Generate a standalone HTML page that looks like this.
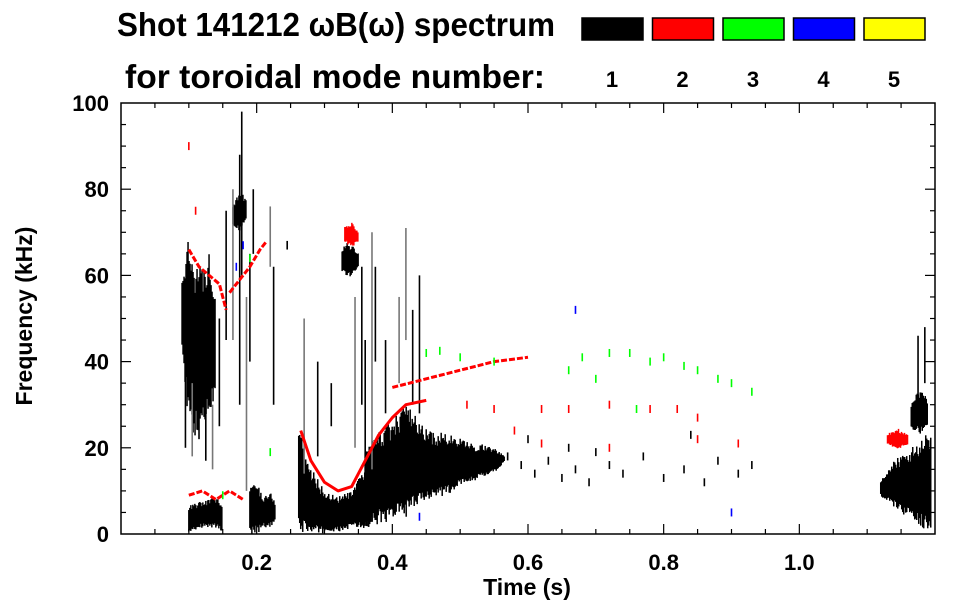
<!DOCTYPE html>
<html><head><meta charset="utf-8"><style>
html,body{margin:0;padding:0;background:#fff;}
svg{display:block;font-family:"Liberation Sans",sans-serif;font-weight:bold;}
</style></head><body>
<svg id="chart" width="963" height="615" viewBox="0 0 963 615" xmlns="http://www.w3.org/2000/svg">
<text x="117" y="36" font-size="33" textLength="438" lengthAdjust="spacingAndGlyphs">Shot 141212 ωB(ω) spectrum</text>
<text x="125" y="88" font-size="33" textLength="420" lengthAdjust="spacingAndGlyphs">for toroidal mode number:</text>
<g id="legend"></g>
<g id="marks"></g>
<g id="axes"></g>
</svg>
<script>
// ---- data ----
const modeNumbers = [1,2,3,4,5];
const modeColors = ["#000000","#ff0000","#00ff00","#0000ff","#ffff00"];
const xTicks = [0.2,0.4,0.6,0.8,1.0];
const xTickLabels = ["0.2","0.4","0.6","0.8","1.0"];
const yTicks = [0,20,40,60,80,100];
const yTickLabels = ["0","20","40","60","80","100"];
// mode 1 (black) bands: time, low freq, high freq
const n1BandT = [[0.09,0.095,0.10,0.11,0.12,0.13,0.14],[0.165,0.175,0.185],[0.10,0.12,0.14,0.15],[0.19,0.20,0.21,0.22,0.227],[0.262,0.27,0.28,0.30,0.32,0.34,0.36,0.37],[0.326,0.335,0.35],[0.36,0.38,0.40,0.42,0.44,0.46,0.48,0.50,0.52,0.54,0.555,0.565],[1.12,1.14,1.16,1.18,1.195],[1.165,1.18,1.19]];
const n1BandLo = [[45,35,28,25,28,30,35],[72,71,73],[1,2,2,1],[1,1,2,2,3],[2,2,1,1,1,2,2,3],[61,60,62],[3,4,5,6,8,10,10,12,13,14,15,17],[9,7,5,3,3],[25,24,26]];
const n1BandHi = [[57,62,64,60,58,62,55],[76,79,77],[6,7,8,6],[10,11,8,9,7],[25,18,14,9,8,9,14,20],[66,67,65],[18,22,24,28,24,22,22,21,20,20,19,18],[12,16,18,20,22],[30,33,30]];
// mode 1 streaks: time, f0, f1
const n1StreakT = [0.095,0.105,0.115,0.125,0.135,0.145,0.155,0.165,0.175,0.178,0.185,0.19,0.195,0.22,0.225,0.245,0.27,0.29,0.31,0.345,0.355,0.36,0.37,0.375,0.39,0.41,0.43,0.44,0.42,1.175,1.185];
const n1StreakF0 = [20,18,22,17,15,25,45,45,30,60,10,40,65,62,30,66,14,18,25,20,30,10,15,40,28,35,30,28,45,30,35];
const n1StreakF1 = [40,35,35,40,30,50,75,80,88,98,55,65,80,76,62,68,50,40,35,55,62,45,70,62,45,55,52,60,71,46,48];
// scattered short mode-1 dashes: time, freq
const n1DashT = [0.57,0.59,0.61,0.63,0.65,0.67,0.69,0.72,0.74,0.77,0.8,0.83,0.86,0.88,0.91,0.93,0.60,0.66,0.7,0.84];
const n1DashF = [18,16,14,17,13,15,12,16,14,18,13,15,12,17,14,16,22,20,19,23];
// mode 2 (red) lines
const n2LineT = [[0.265,0.28,0.30,0.32,0.34,0.36,0.38,0.40,0.42,0.45],[0.40,0.45,0.50,0.55,0.60],[0.16,0.175,0.19,0.205,0.215],[0.10,0.115,0.13,0.145,0.155],[0.10,0.12,0.14,0.16,0.18]];
const n2LineF = [[24,17,12,10,11,17,23,27,30,31],[34,36,38,40,41],[56,59,62,66,68],[66,62,60,58,52],[9,10,8,10,8]];
const n2BlobT = [[0.33,0.34,0.35],[1.13,1.145,1.16]];
const n2BlobLo = [[68,67,68],[21,20,21]];
const n2BlobHi = [[71,72,70],[23,24,23]];
const n2DashT = [0.55,0.62,0.66,0.72,0.78,0.82,0.85,0.62,0.72,0.85,0.91,0.10,0.11,0.58,0.51];
const n2DashF = [29,29,29,30,29,29,27,21,20,22,21,90,75,24,30];
// mode 3 (green) dashes
const n3DashT = [0.45,0.47,0.50,0.55,0.66,0.68,0.72,0.75,0.78,0.80,0.83,0.85,0.88,0.90,0.93,0.70,0.76,0.22,0.15,0.19];
const n3DashF = [42,42.5,41,40,38,41,42,42,40,41,39,38,36,35,33,36,29,19,9,64];
// mode 4 (blue) dashes
const n4DashT = [0.18,0.67,0.90,0.44,0.17];
const n4DashF = [67,52,5,4,62];

// ---- axes ----
const X0=121, X1=935, Y0=534, Y1=103;
const xs = t => X0 + (X1-X0)*t/1.2;
const ys = f => Y0 - (Y0-Y1)*f/100;
const NS="http://www.w3.org/2000/svg";
function mk(tag, attrs, parent){const e=document.createElementNS(NS,tag);for(const k in attrs)e.setAttribute(k,attrs[k]);parent.appendChild(e);return e;}
const marks=document.getElementById('marks'), axes=document.getElementById('axes'), legend=document.getElementById('legend');

// legend
modeNumbers.forEach((m,i)=>{
  const x=582+i*70.5;
  const r=mk('rect',{x:x,y:18,width:61,height:22,fill:modeColors[i],stroke:'#000','stroke-width':1.5},legend);
  
  
  const t=mk('text',{x:x+30,y:87,'font-size':22,'text-anchor':'middle'},legend);
  t.textContent=String(m);
  
  
});

// deterministic texture jitter (style only)
const jit = k => { const s=Math.sin(k*12.9898)*43758.5453; return s-Math.floor(s); };
let jk=1;
function band(T,L,H,color,name){
  const g=mk('g',{},marks);
  
  
  const xa=xs(T[0]), xb=xs(T[T.length-1]);
  for(let x=xa;x<=xb;x+=1){
    const t=(x-X0)*1.2/(X1-X0);
    let j=0; while(j<T.length-2 && t>T[j+1]) j++;
    const u=Math.min(1,Math.max(0,(t-T[j])/(T[j+1]-T[j])));
    const lo=L[j]+(L[j+1]-L[j])*u, hi=H[j]+(H[j+1]-H[j])*u;
    const r=(hi-lo);
    const a=hi+ (jit(jk++)-0.5)*r*0.25, b=lo+(jit(jk++)-0.5)*r*0.2;
    mk('line',{x1:x,x2:x,y1:ys(a),y2:ys(b),stroke:color,'stroke-width':1.5},g);
  }
}
n1BandT.forEach((T,i)=>band(T,n1BandLo[i],n1BandHi[i],'#000','mode1-band'));
n1StreakT.forEach((t,i)=>{
  const l=mk('line',{x1:xs(t),x2:xs(t),y1:ys(n1StreakF0[i]),y2:ys(n1StreakF1[i]),stroke:i%3==1?'#777':'#000','stroke-width':1.6},marks);
  
  
});
function dash(t,f,color,name){
  const l=mk('line',{x1:xs(t),x2:xs(t),y1:ys(f)-4,y2:ys(f)+4,stroke:color,'stroke-width':1.6},marks);
  
  
}
n1DashT.forEach((t,i)=>dash(t,n1DashF[i],'#000','mode1-dash'));
n2LineT.forEach((T,i)=>{
  const p=mk('polyline',{points:T.map((t,j)=>xs(t)+','+ys(n2LineF[i][j])).join(' '),fill:'none',stroke:'#f00','stroke-width':3,'stroke-linejoin':'round','stroke-dasharray':i==0?'none':'6 2'},marks);
  
  
});
n2BlobT.forEach((T,i)=>band(T,n2BlobLo[i],n2BlobHi[i],'#f00','mode2-band'));
n2DashT.forEach((t,i)=>dash(t,n2DashF[i],'#f00','mode2-dash'));
n3DashT.forEach((t,i)=>dash(t,n3DashF[i],'#0f0','mode3-dash'));
n4DashT.forEach((t,i)=>dash(t,n4DashF[i],'#00f','mode4-dash'));

// frame
const fr=mk('rect',{x:X0,y:Y1,width:X1-X0,height:Y0-Y1,fill:'none',stroke:'#000','stroke-width':1.5},axes);


for(let t=0.05;t<1.2;t+=0.05){
  const major=Math.abs(t/0.2-Math.round(t/0.2))<1e-6;const L=major?10:5;
  mk('line',{x1:xs(t),x2:xs(t),y1:Y0,y2:Y0-L,stroke:'#000','stroke-width':1.2},axes);
  mk('line',{x1:xs(t),x2:xs(t),y1:Y1,y2:Y1+L,stroke:'#000','stroke-width':1.2},axes);
}
for(let f=5;f<100;f+=5){
  const L=f%20==0?10:5;
  mk('line',{x1:X0,x2:X0+L,y1:ys(f),y2:ys(f),stroke:'#000','stroke-width':1.2},axes);
  mk('line',{x1:X1,x2:X1-L,y1:ys(f),y2:ys(f),stroke:'#000','stroke-width':1.2},axes);
}
xTicks.forEach((t,i)=>{
  const e=mk('text',{x:xs(t),y:570,'font-size':22,'text-anchor':'middle'},axes);
  e.textContent=xTickLabels[i];
  
  
});
yTicks.forEach((f,i)=>{
  const e=mk('text',{x:109,y:ys(f)+8,'font-size':22,'text-anchor':'end'},axes);
  e.textContent=yTickLabels[i];
  
  
});
const xt=mk('text',{x:527,y:595,'font-size':23,'text-anchor':'middle'},axes);
xt.textContent='Time (s)';


const yt=mk('text',{x:0,y:0,'font-size':23,'text-anchor':'middle',transform:'translate(32,316) rotate(-90)'},axes);
yt.textContent='Frequency (kHz)';


</script>
</body></html>
